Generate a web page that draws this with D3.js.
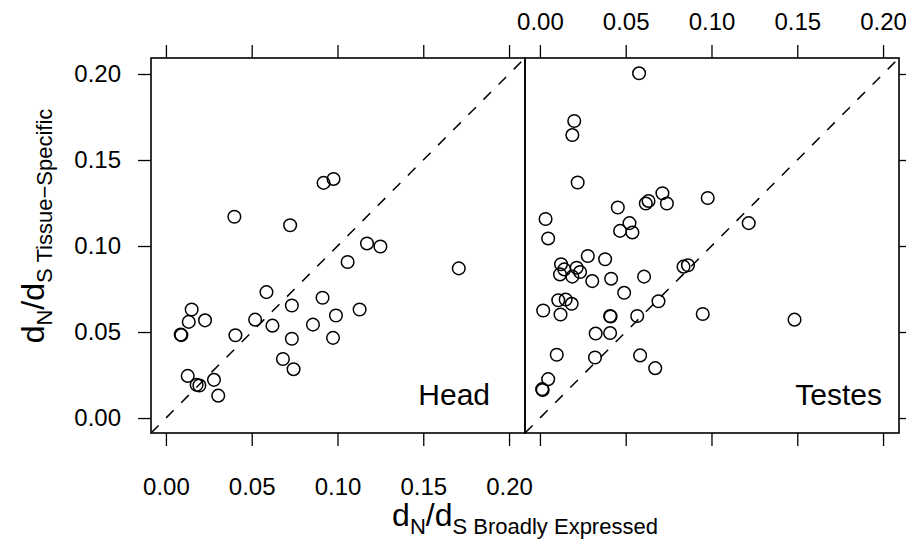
<!DOCTYPE html>
<html>
<head>
<meta charset="utf-8">
<script src="https://cdn.jsdelivr.net/npm/d3@7"></script>
<style>
  body { margin: 0; background: #fff; }
  svg { font-family: "Liberation Sans", Arial, sans-serif; }
</style>
</head>
<body>
<div id="chart"></div>
<script>
// panels and their points (dN/dS broadly expressed vs tissue-specific)
const panels = ['Head', 'Testes'];
const headX = [0.0086, 0.0090, 0.0133, 0.0150, 0.0228, 0.0127, 0.0179, 0.0195, 0.0280, 0.0305,
  0.0405, 0.0520, 0.0586, 0.0621, 0.0734, 0.0734, 0.0682, 0.0744, 0.0913, 0.0857,
  0.0991, 0.0974, 0.0399, 0.0724, 0.0919, 0.0977, 0.1059, 0.1172, 0.1250, 0.1707, 0.1129];
const headY = [0.0485, 0.0482, 0.0559, 0.0631, 0.0568, 0.0245, 0.0193, 0.0189, 0.0222, 0.0130,
  0.0481, 0.0572, 0.0732, 0.0537, 0.0654, 0.0461, 0.0343, 0.0284, 0.0699, 0.0543,
  0.0596, 0.0466, 0.1170, 0.1121, 0.1367, 0.1390, 0.0907, 0.1015, 0.0997, 0.0870, 0.0631];
const testesX = [0.0578, 0.0200, 0.0189, 0.0220, 0.0714, 0.0978, 0.0633, 0.0617, 0.0740, 0.0454,
  0.0033, 0.0048, 0.0467, 0.0522, 0.0539, 0.0279, 0.0380, 0.0123, 0.0117, 0.0142,
  0.0214, 0.0234, 0.0189, 0.0305, 0.0415, 0.0607, 0.0837, 0.0863, 0.0491, 0.0107,
  0.0150, 0.0185, 0.0019, 0.0120, 0.0409, 0.0412, 0.0567, 0.0691, 0.0949, 0.0325,
  0.0409, 0.0098, 0.0321, 0.0584, 0.0672, 0.0048, 0.0013, 0.0016, 0.1217, 0.1484];
const testesY = [0.2004, 0.1727, 0.1645, 0.1369, 0.1307, 0.1279, 0.1262, 0.1247, 0.1247, 0.1224,
  0.1157, 0.1044, 0.1088, 0.1133, 0.1079, 0.0942, 0.0923, 0.0894, 0.0835, 0.0864,
  0.0874, 0.0849, 0.0822, 0.0796, 0.0810, 0.0822, 0.0880, 0.0888, 0.0728, 0.0685,
  0.0689, 0.0664, 0.0625, 0.0602, 0.0593, 0.0590, 0.0593, 0.0679, 0.0605, 0.0491,
  0.0494, 0.0368, 0.0352, 0.0364, 0.0290, 0.0226, 0.0168, 0.0163, 0.1133, 0.0572];
const tickValues = [0, 0.05, 0.10, 0.15, 0.20];
const axisLimits = [-0.0087, 0.2093];

const width = 906, height = 544;
const panelLeft = 151, panelTop = 58, panelW = 374, panelH = 375;
const tickLen = 13;
const labelRight = [339, 357];  // right edge of the panel name, inside each panel

const svg = d3.select('#chart').append('svg')
  .attr('width', width).attr('height', height);

const x = d3.scaleLinear().domain(axisLimits).range([0, panelW]);
const y = d3.scaleLinear().domain(axisLimits).range([panelH, 0]);

const data = [
  headX.map((d, i) => ({ x: d, y: headY[i] })),
  testesX.map((d, i) => ({ x: d, y: testesY[i] }))
];

panels.forEach(function(name, p) {
  let g = svg.append('g').attr('transform', 'translate(' + (panelLeft + p * panelW) + ',' + panelTop + ')');

  // y = x reference line
  g.append('line')
    .attr('x1', x(axisLimits[0])).attr('y1', y(axisLimits[0]))
    .attr('x2', x(axisLimits[1])).attr('y2', y(axisLimits[1]))
    .attr('stroke', '#000').attr('stroke-width', 1.5)
    .attr('stroke-dasharray', '10.7,10.7');

  g.selectAll('circle.pt')
    .data(data[p]).enter()
    .append('circle')
    .attr('class', 'pt')
    .attr('cx', d => x(d.x))
    .attr('cy', d => y(d.y))
    .attr('r', 6.3)
    .attr('fill', 'none')
    .attr('stroke', '#000')
    .attr('stroke-width', 1.5);

  g.append('text')
    .attr('x', labelRight[p])
    .attr('y', panelH - 28)
    .attr('text-anchor', 'end')
    .attr('font-size', 30)
    .text(name);

  // axes: labels bottom on first panel, top on second
  let bottom = d3.axisBottom(x).tickValues(tickValues).tickSize(tickLen).tickPadding(32)
    .tickFormat(p === 0 ? d3.format('.2f') : '');
  let topAx = d3.axisTop(x).tickValues(tickValues).tickSize(tickLen).tickPadding(15)
    .tickFormat(p === 1 ? d3.format('.2f') : '');
  g.append('g').attr('class', 'ax').attr('transform', 'translate(0,' + panelH + ')').call(bottom);
  g.append('g').attr('class', 'ax').call(topAx);
  if (p === 0) {
    g.append('g').attr('class', 'ax')
      .call(d3.axisLeft(y).tickValues(tickValues).tickSize(tickLen).tickPadding(17).tickFormat(d3.format('.2f')));
  } else {
    g.append('g').attr('class', 'ax').attr('transform', 'translate(' + panelW + ',0)')
      .call(d3.axisRight(y).tickValues(tickValues).tickSize(tickLen).tickFormat(''));
  }

  g.append('rect')
    .attr('width', panelW).attr('height', panelH)
    .attr('fill', 'none').attr('stroke', '#000').attr('stroke-width', 1.6);
});

svg.selectAll('.ax .domain').remove();
svg.selectAll('.ax line').attr('stroke', '#000').attr('stroke-width', 1.3);
svg.selectAll('.ax text').attr('font-size', 24).attr('fill', '#000')
  .attr('font-family', '"Liberation Sans", Arial, sans-serif');

// axis titles
let xlab = svg.append('text')
  .attr('x', panelLeft + panelW).attr('y', 526)
  .attr('text-anchor', 'middle')
  .attr('font-size', 32);
xlab.append('tspan').text('d');
xlab.append('tspan').attr('font-size', 22).attr('dy', 8).text('N');
xlab.append('tspan').attr('dy', -8).text('/d');
xlab.append('tspan').attr('font-size', 22).attr('dy', 8).text('S Broadly Expressed');

let ylab = svg.append('text')
  .attr('transform', 'translate(44,226) rotate(-90)')
  .attr('text-anchor', 'middle')
  .attr('font-size', 32);
ylab.append('tspan').text('d');
ylab.append('tspan').attr('font-size', 22).attr('dy', 8).text('N');
ylab.append('tspan').attr('dy', -8).text('/d');
ylab.append('tspan').attr('font-size', 22).attr('dy', 8).text('S Tissue\u2212Specific');
</script>
</body>
</html>
